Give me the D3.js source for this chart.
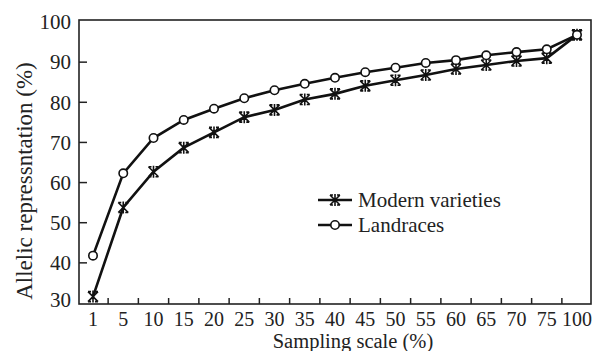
<!DOCTYPE html>
<html>
<head>
<meta charset="utf-8">
<script src="https://cdn.jsdelivr.net/npm/d3@7"></script>
<style>
  body { margin: 0; background: #fff; }
  svg { display: block; }
</style>
</head>
<body>
<svg id="chart" width="597" height="351"></svg>
<script>
// sampling scale categories (%)
const scales = ["1", "5", "10", "15", "20", "25", "30", "35", "40", "45", "50", "55", "60", "65", "70", "75", "100"];
const modern = [31.6, 53.8, 62.7, 68.7, 72.5, 76.3, 78.1, 80.7, 82.1, 84.1, 85.5, 86.8, 88.3, 89.3, 90.3, 91.0, 96.8];
const landraces = [41.8, 62.3, 71.1, 75.6, 78.4, 81.0, 83.0, 84.6, 86.1, 87.5, 88.6, 89.8, 90.5, 91.7, 92.5, 93.2, 96.8];
const yTicks = [30, 40, 50, 60, 70, 80, 90, 100];

const serif = "'Liberation Serif', 'Times New Roman', serif";
const svg = d3.select("#chart");

// frame of the plot area
const frame = { left: 79, right: 591, top: 20, bottom: 304 };

const x = d3.scalePoint().domain(scales).range([93, 577]);
const y = d3.scaleLinear().domain([30, 100]).range([303, 22]);

// box
svg.append("rect")
  .attr("x", frame.left).attr("y", frame.top)
  .attr("width", frame.right - frame.left)
  .attr("height", frame.bottom - frame.top)
  .attr("fill", "none").attr("stroke", "#222").attr("stroke-width", 1.6);

// y ticks (inward) and labels
svg.append("g").selectAll("line")
  .data(yTicks.filter(d => d > 30 && d < 100))
  .join("line")
  .attr("x1", frame.left).attr("x2", frame.left + 8)
  .attr("y1", d => y(d)).attr("y2", d => y(d))
  .attr("stroke", "#222").attr("stroke-width", 1.5);

svg.append("g").selectAll("text")
  .data(yTicks)
  .join("text")
  .attr("x", frame.left - 8)
  .attr("y", d => d === 30 ? y(d) - 3 : y(d))
  .attr("dy", "0.35em")
  .attr("text-anchor", "end")
  .style("font-family", serif)
  .attr("font-size", 21)
  .attr("fill", "#222")
  .text(d => d);

// x ticks sit between the categories
const mids = scales.slice(1).map((c, i) => (x(scales[i]) + x(c)) / 2);
svg.append("g").selectAll("line")
  .data(mids)
  .join("line")
  .attr("x1", d => d).attr("x2", d => d)
  .attr("y1", frame.bottom).attr("y2", frame.bottom - 6)
  .attr("stroke", "#222").attr("stroke-width", 1.5);

svg.append("g").selectAll("text")
  .data(scales)
  .join("text")
  .attr("x", d => x(d))
  .attr("y", 326)
  .attr("text-anchor", "middle")
  .style("font-family", serif)
  .attr("font-size", 20)
  .attr("fill", "#222")
  .text(d => d);

// axis titles
svg.append("text")
  .attr("x", 353).attr("y", 348)
  .attr("text-anchor", "middle")
  .style("font-family", serif)
  .attr("font-size", 20.5)
  .attr("fill", "#222")
  .text("Sampling scale (%)");

svg.append("text")
  .attr("transform", "translate(32,181) rotate(-90)")
  .attr("text-anchor", "middle")
  .style("font-family", serif)
  .attr("font-size", 23)
  .attr("fill", "#222")
  .text("Allelic repressntation (%)");

// markers
function asterisk(g) {
  const s = 5;
  g.append("path")
    .attr("d", `M${-s},${-s}L${s},${s}M${-s},${s}L${s},${-s}M0,${-s - 1}L0,${s + 1}M${-s},${-s}h3M${s},${-s}h-3M${-s},${s}h3M${s},${s}h-3`)
    .attr("fill", "none").attr("stroke", "#111").attr("stroke-width", 1.6);
}
function circle(g) {
  g.append("circle").attr("r", 4.2)
    .attr("fill", "#fff").attr("stroke", "#111").attr("stroke-width", 1.6);
}

const line = d3.line().x((d, i) => x(scales[i])).y(d => y(d));

const series = [
  { name: "Modern varieties", values: modern, marker: asterisk },
  { name: "Landraces", values: landraces, marker: circle }
];

series.forEach(s => {
  svg.append("path")
    .datum(s.values)
    .attr("d", line)
    .attr("fill", "none").attr("stroke", "#111").attr("stroke-width", 2.6);
});
series.forEach(s => {
  svg.append("g").selectAll("g")
    .data(s.values)
    .join("g")
    .attr("transform", (d, i) => `translate(${x(scales[i])},${y(d)})`)
    .each(function () { s.marker(d3.select(this)); });
});

// legend
const legend = svg.append("g");
series.forEach((s, i) => {
  const ly = 200 + i * 25;
  const row = legend.append("g");
  row.append("line")
    .attr("x1", 318).attr("x2", 352).attr("y1", ly).attr("y2", ly)
    .attr("stroke", "#111").attr("stroke-width", 2.6);
  row.append("g").attr("transform", `translate(335,${ly})`).call(s.marker);
  row.append("text")
    .attr("x", 358).attr("y", ly).attr("dy", "0.33em")
    .style("font-family", serif)
    .attr("font-size", 21)
    .attr("fill", "#222")
    .text(s.name);
});
</script>
</body>
</html>
